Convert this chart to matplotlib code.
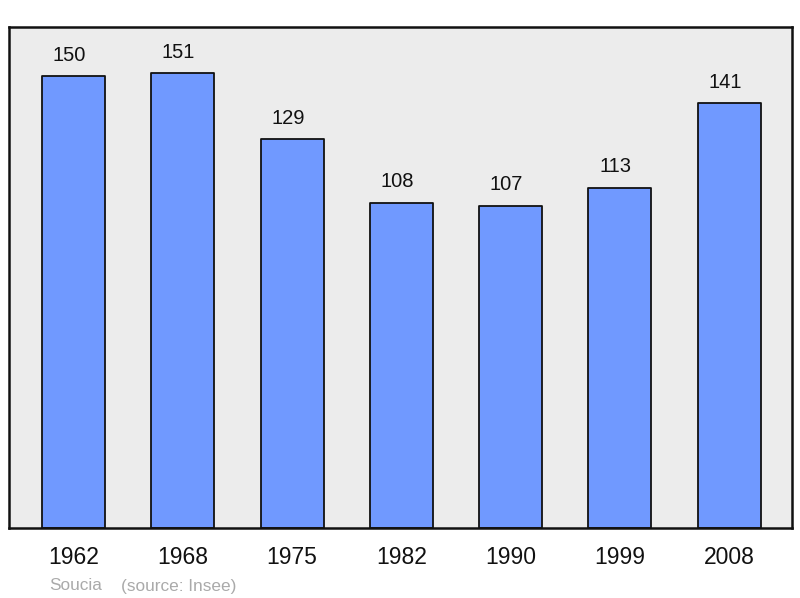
import matplotlib
matplotlib.use("Agg")
import matplotlib.pyplot as plt

years = ["1962", "1968", "1975", "1982", "1990", "1999", "2008"]
population = [150, 151, 129, 108, 107, 113, 141]
commune = "Soucia"
source = "(source: Insee)"

plt.rcParams['font.family'] = ['Liberation Sans', 'DejaVu Sans']

fig = plt.figure(figsize=(8.0, 5.98), dpi=100)
ax = fig.add_axes([9/800, 70/598, 783/800, 501/598])
ax.set_facecolor('#ececec')

x = list(range(len(years)))
bars = ax.bar(x, population, width=0.577, color='#7099ff', edgecolor='#111111',
              linewidth=1.3, joinstyle='round', zorder=2)
for xi, v in zip(x, population):
    ax.annotate(str(v), (xi, v), xytext=(-3, 15), textcoords='offset points',
                ha='center', va='center', fontsize=14.5, color='#111111')

ax.set_xlim(-0.59, 6.575)
ax.set_ylim(0, 166.3)
ax.set_yticks([])
ax.set_xticks(x)
ax.set_xticklabels(years, fontsize=16.5, color='#111111')
ax.tick_params(axis='x', length=0, pad=13)
for s in ax.spines.values():
    s.set_linewidth(1.8)
    s.set_color('#111111')
    s.set_joinstyle('round')

fig.text(49/800, 1 - 586/598, commune, fontsize=12.4, color='#aaaaaa', va='center', ha='left')
fig.text(121/800, 1 - 586/598, source, fontsize=12.4, color='#aaaaaa', va='center', ha='left')

fig.savefig('out.png', dpi=100, facecolor='white')
